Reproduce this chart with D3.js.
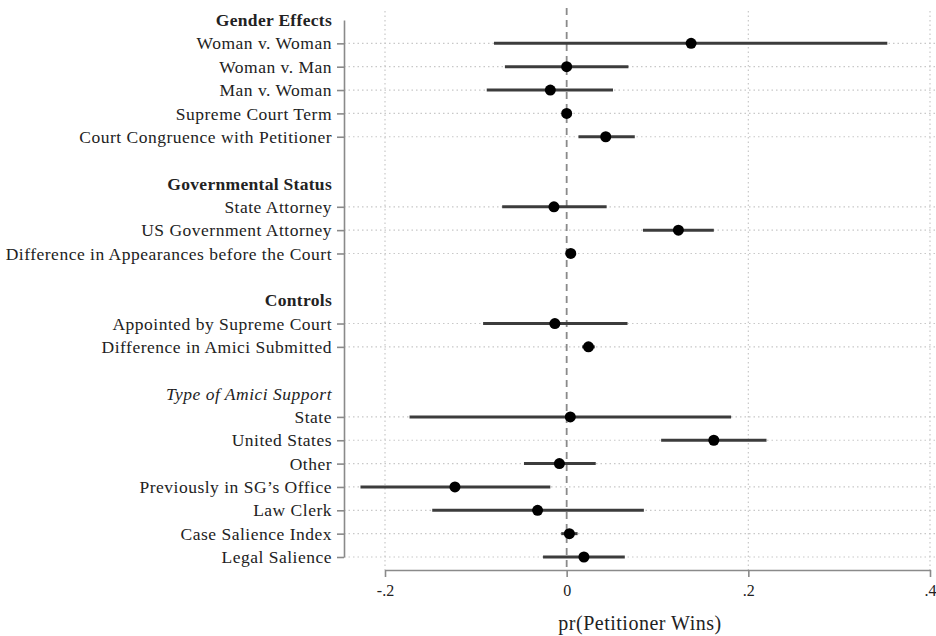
<!DOCTYPE html>
<html lang="en">
<head>
<meta charset="utf-8">
<title>pr(Petitioner Wins)</title>
<script src="https://d3js.org/d3.v7.min.js"></script>
<style>
  html, body { margin: 0; padding: 0; background: #fff; }
  svg { display: block; font-family: "Liberation Serif", "DejaVu Serif", serif; }
  .row-label { font-size: 17.5px; letter-spacing: 0.5px; fill: #222; }
  .row-label.header { font-weight: bold; letter-spacing: 0.3px; }
  .row-label.italic { font-style: italic; }
  .x-axis text { font-size: 16px; fill: #222; font-family: "Liberation Serif", serif; }
  .axis path, .axis line { stroke: #8a8a8a; stroke-width: 1.6; }
</style>
</head>
<body>
<div id="chart"></div>
<script>
// rows top to bottom; kind: h = bold header, i = italic header, b = blank, d = estimate row
const rowLabels = [
  "Gender Effects", "Woman v. Woman", "Woman v. Man", "Man v. Woman", "Supreme Court Term",
  "Court Congruence with Petitioner", "",
  "Governmental Status", "State Attorney", "US Government Attorney",
  "Difference in Appearances before the Court", "",
  "Controls", "Appointed by Supreme Court", "Difference in Amici Submitted", "",
  "Type of Amici Support", "State", "United States", "Other", "Previously in SG\u2019s Office",
  "Law Clerk", "Case Salience Index", "Legal Salience"
];
const rowKinds = [
  "h", "d", "d", "d", "d", "d", "b",
  "h", "d", "d", "d", "b",
  "h", "d", "d", "b",
  "i", "d", "d", "d", "d", "d", "d", "d"
];
const estimates = [
  null, 0.137, 0.000, -0.018, 0.000, 0.043, null,
  null, -0.014, 0.123, 0.0045, null,
  null, -0.013, 0.024, null,
  null, 0.004, 0.162, -0.008, -0.123, -0.032, 0.003, 0.019
];
const lower = [
  null, -0.080, -0.068, -0.088, -0.002, 0.013, null,
  null, -0.071, 0.084, 0.002, null,
  null, -0.092, 0.017, null,
  null, -0.173, 0.104, -0.047, -0.227, -0.148, -0.006, -0.026
];
const upper = [
  null, 0.353, 0.068, 0.051, 0.002, 0.075, null,
  null, 0.044, 0.162, 0.007, null,
  null, 0.067, 0.031, null,
  null, 0.181, 0.220, 0.032, -0.018, 0.085, 0.012, 0.064
];
const xTicks = [-0.2, 0, 0.2, 0.4];
const xTitle = "pr(Petitioner Wins)";

const width = 936, height = 636;
const plotLeft = 344, plotRight = 936;

const rows = rowLabels.map((label, i) => ({
  i, label, kind: rowKinds[i], est: estimates[i], lo: lower[i], hi: upper[i]
}));
const dataRows = rows.filter(r => r.kind === "d");

const x = d3.scaleLinear().domain([-0.2, 0.4]).range([385, 930]);
const y = d3.scaleLinear().domain([0, rows.length - 1]).range([20, 557]);

const svg = d3.select("#chart").append("svg")
    .attr("width", width)
    .attr("height", height)
    .attr("viewBox", [0, 0, width, height]);

// vertical dotted grid at the x ticks (zero gets a dashed line instead)
svg.append("g")
    .selectAll("line")
    .data(xTicks.filter(d => d !== 0))
    .join("line")
    .attr("x1", d => x(d)).attr("x2", d => x(d))
    .attr("y1", 11).attr("y2", 570)
    .attr("stroke", "#c8c8c8")
    .attr("stroke-width", 1.2)
    .attr("stroke-dasharray", "1.5,3");

// horizontal dotted grid on each estimate row
svg.append("g")
    .selectAll("line")
    .data(dataRows)
    .join("line")
    .attr("x1", plotLeft).attr("x2", plotRight)
    .attr("y1", d => y(d.i)).attr("y2", d => y(d.i))
    .attr("stroke", "#c8c8c8")
    .attr("stroke-width", 1.2)
    .attr("stroke-dasharray", "1.5,3");

// reference line at zero
svg.append("line")
    .attr("x1", x(0)).attr("x2", x(0))
    .attr("y1", 8).attr("y2", 570)
    .attr("stroke", "#8a8a8a")
    .attr("stroke-width", 1.8)
    .attr("stroke-dasharray", "7,5");

// axes
svg.append("g")
    .attr("class", "axis y-axis")
    .attr("transform", `translate(${plotLeft},0)`)
    .call(d3.axisLeft(y)
        .tickValues(dataRows.map(d => d.i))
        .tickFormat("")
        .tickSize(7)
        .tickSizeOuter(0));

// stata style labels: -.2, 0, .2, .4
const fmt = d => d === 0 ? "0" : d3.format(".1f")(d).replace("\u2212", "-").replace("0.", ".");
svg.append("g")
    .attr("class", "axis x-axis")
    .attr("transform", "translate(0,570)")
    .call(d3.axisBottom(x)
        .tickValues(xTicks)
        .tickFormat(fmt)
        .tickSize(7)
        .tickSizeOuter(0))
    .call(g => g.selectAll("text").attr("dy", "1.05em").attr("y", 9));

// row labels
svg.append("g")
    .selectAll("text")
    .data(rows.filter(r => r.kind !== "b"))
    .join("text")
    .attr("class", d => "row-label" + (d.kind === "h" ? " header" : d.kind === "i" ? " italic" : ""))
    .attr("x", 332)
    .attr("y", d => y(d.i))
    .attr("dy", "0.35em")
    .attr("text-anchor", "end")
    .text(d => d.label);

// confidence intervals
svg.append("g")
    .selectAll("line")
    .data(dataRows)
    .join("line")
    .attr("x1", d => x(d.lo)).attr("x2", d => x(d.hi))
    .attr("y1", d => y(d.i)).attr("y2", d => y(d.i))
    .attr("stroke", "#3c3c3c")
    .attr("stroke-width", 3);

// point estimates
svg.append("g")
    .selectAll("circle")
    .data(dataRows)
    .join("circle")
    .attr("cx", d => x(d.est))
    .attr("cy", d => y(d.i))
    .attr("r", 5.5)
    .attr("fill", "#000");

svg.append("text")
    .attr("x", (plotLeft + plotRight) / 2)
    .attr("y", 630)
    .attr("text-anchor", "middle")
    .attr("font-size", 20)
    .attr("letter-spacing", 0.5)
    .attr("fill", "#222")
    .text(xTitle);
</script>
</body>
</html>
